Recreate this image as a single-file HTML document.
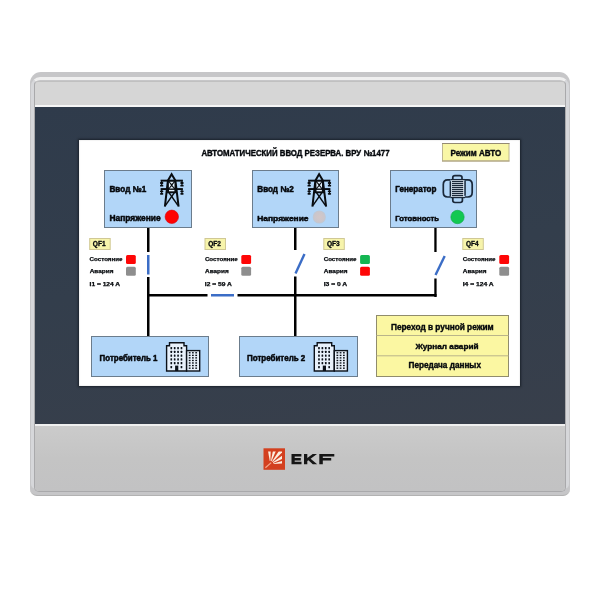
<!DOCTYPE html>
<html><head><meta charset="utf-8">
<style>
*{margin:0;padding:0;box-sizing:border-box}
html,body{width:600px;height:600px;background:#fff;overflow:hidden}
body{position:relative;font-family:"Liberation Sans",sans-serif}
.a{position:absolute}
</style></head><body>
<!-- device case -->
<div class="a" style="left:30px;top:72px;width:540px;height:423.5px;border-radius:11px 11px 7px 7px;background:#c6c6c8;border-bottom:1.4px solid #b2b2b2"></div>
<div class="a" style="left:30.8px;top:76.6px;width:538.4px;height:412px;border-radius:9px 9px 5px 5px;border:3.2px solid #d6d7da;border-top:3px solid #efefef;border-bottom:0"></div>
<div class="a" style="left:34px;top:81px;width:532px;height:411px;border-radius:4px 4px 5px 5px;background:#d6d6d6;border:1px solid #a9a9ab;border-top-color:#c0c0c0"></div>
<div class="a" style="left:35px;top:105px;width:530px;height:2px;background:#f6f6f6"></div>
<div class="a" style="left:35px;top:107px;width:530px;height:317px;background:linear-gradient(172deg,#2f3b4b,#333e4c 50%,#383f4b)"></div>
<div class="a" style="left:35px;top:424px;width:530px;height:2px;background:#efefef"></div>
<div class="a" style="left:35px;top:426px;width:530px;height:65px;border-radius:0 0 4px 4px;background:linear-gradient(#cbcbcb,#c4c4c4 50%,#c2c2c3)"></div>
<!-- screen -->
<div class="a" style="left:79px;top:140px;width:441px;height:246px;background:#fff;box-shadow:0 0 2px 1px rgba(22,28,36,0.85),inset 0 0 1.5px rgba(0,0,0,0.25)"></div>

<svg class="a" style="left:0;top:0" width="600" height="600">
<defs>
 <radialGradient id="gg"><stop offset="0" stop-color="#d3c7c8"/><stop offset="0.75" stop-color="#cbc6cb"/><stop offset="1" stop-color="#bcc8d6"/></radialGradient>
</defs>
<!-- mode button -->
<rect x="442.5" y="143.5" width="66.5" height="17.5" fill="#f9f7a6" stroke="#bdb690" stroke-width="1"/>
<rect x="442" y="143" width="67.5" height="1" fill="#948a72"/>
<rect x="442" y="160.5" width="67.5" height="1" fill="#ab9f82"/>
<!-- top boxes -->
<g fill="#b2d6f8" stroke="#6b7c8c" stroke-width="1">
<rect x="104.5" y="170.5" width="87" height="57"/>
<rect x="252.5" y="170.5" width="86" height="57"/>
<rect x="390.5" y="170.5" width="86" height="57"/>
<rect x="91.5" y="336.5" width="117" height="40"/>
<rect x="239.5" y="336.5" width="118" height="40"/>
</g>
<circle cx="171.8" cy="216.8" r="6.7" fill="#fe0202" stroke="#d8000c" stroke-width="0.6"/>
<circle cx="319.3" cy="217" r="6.6" fill="url(#gg)"/>
<circle cx="457.5" cy="217" r="6.7" fill="#12c852" stroke="#0ea848" stroke-width="0.6"/>

<!-- lines -->
<g fill="#000">
<rect x="147" y="228" width="2.5" height="24"/>
<rect x="147" y="277" width="2.5" height="59"/>
<rect x="294" y="228" width="2.5" height="22"/>
<rect x="294" y="276.5" width="2.5" height="59.5"/>
<rect x="434.3" y="228" width="2.3" height="24"/>
<rect x="434.3" y="278.5" width="2.3" height="18.5"/>
<rect x="147" y="294" width="60.5" height="2.5"/>
<rect x="237.5" y="294" width="199" height="2.5"/>
</g>
<g fill="#3b6dc6">
<rect x="147" y="255" width="2.5" height="19.5"/>
<rect x="211" y="294" width="23" height="2.5"/>
</g>
<g stroke="#3b6dc6" stroke-width="2.4">
<line x1="295.5" y1="273.5" x2="304.5" y2="254"/>
<line x1="435.5" y1="275" x2="444.7" y2="256"/>
</g>

<!-- QF labels -->
<g fill="#f7f4ab" stroke="#d0c895" stroke-width="1">
<rect x="89.7" y="238.5" width="20.5" height="11"/>
<rect x="205" y="238.5" width="20.5" height="11"/>
<rect x="323.8" y="238.5" width="20.5" height="11"/>
<rect x="462.8" y="238.5" width="20.5" height="11"/>
</g>
<!-- squares -->
<g>
<rect x="126" y="255" width="9.8" height="9" rx="1.5" fill="#fe0606"/>
<rect x="126" y="266.8" width="9.8" height="9" rx="1.5" fill="#8e8e8e"/>
<rect x="241.3" y="255" width="9.8" height="9" rx="1.5" fill="#fe0606"/>
<rect x="241.3" y="266.8" width="9.8" height="9" rx="1.5" fill="#8e8e8e"/>
<rect x="360.1" y="255" width="9.8" height="9" rx="1.5" fill="#14b652"/>
<rect x="360.1" y="266.8" width="9.8" height="9" rx="1.5" fill="#fe0606"/>
<rect x="499.3" y="255" width="9.8" height="9" rx="1.5" fill="#fe0606"/>
<rect x="499.3" y="266.8" width="9.8" height="9" rx="1.5" fill="#8e8e8e"/>
</g>

<!-- buttons -->
<rect x="376.5" y="315.5" width="132" height="61" fill="#fbf7a2" stroke="#908c6c" stroke-width="1"/>
<rect x="376.5" y="335" width="132" height="1" fill="#b9b48a"/>
<rect x="376.5" y="355.3" width="132" height="1" fill="#b9b48a"/>

<!-- logo -->
<rect x="263.5" y="448.3" width="21.5" height="21.5" fill="#d3401f"/>
<g transform="translate(0,0)" fill="none" stroke="#080c10">
<polyline points="164.9,206.6 167.9,180.5 171.6,174.3 175.4,180.5 178.6,206.6" stroke-width="2.0" stroke-linejoin="miter" stroke-miterlimit="8"/>
<line x1="169.0" y1="192.6" x2="177.9" y2="205.4" stroke-width="1.5"/>
<line x1="174.4" y1="192.6" x2="165.5" y2="205.4" stroke-width="1.5"/>
</g>
<g transform="translate(0,0)" fill="#080c10">
<rect x="160.6" y="179.7" width="22.3" height="1.9"/>
<rect x="160.6" y="188.1" width="22.3" height="1.9"/>
<polygon points="167.6,180 175.8,180 176.6,193.2 167.0,193.2"/>
<rect x="160.0" y="182.1" width="3.3" height="1.8" rx="0.7"/>
<rect x="160.0" y="184.8" width="3.3" height="1.8" rx="0.7"/>
<rect x="160.0" y="190.4" width="3.3" height="1.8" rx="0.7"/>
<rect x="160.0" y="193.0" width="3.3" height="1.8" rx="0.7"/>
<rect x="161.1" y="181" width="1.1" height="4.5"/>
<rect x="161.1" y="189.5" width="1.1" height="4.5"/>
<rect x="180.3" y="182.1" width="3.3" height="1.8" rx="0.7"/>
<rect x="180.3" y="184.8" width="3.3" height="1.8" rx="0.7"/>
<rect x="180.3" y="190.4" width="3.3" height="1.8" rx="0.7"/>
<rect x="180.3" y="193.0" width="3.3" height="1.8" rx="0.7"/>
<rect x="181.4" y="181" width="1.1" height="4.5"/>
<rect x="181.4" y="189.5" width="1.1" height="4.5"/>
</g>
<g transform="translate(0,0)" fill="#e4f2fe">
<polygon points="168.9,182.3 168.9,188.0 171.0,185.15"/>
<polygon points="174.5,182.3 174.5,188.0 172.4,185.15"/>
<polygon points="169.6,181.8 173.8,181.8 171.7,184.1"/>
<polygon points="169.6,188.5 173.8,188.5 171.7,186.2"/>
<rect x="169.0" y="189.9" width="5.4" height="1.4"/>
</g>
<g transform="translate(147.5,0)" fill="none" stroke="#080c10">
<polyline points="164.9,206.6 167.9,180.5 171.6,174.3 175.4,180.5 178.6,206.6" stroke-width="2.0" stroke-linejoin="miter" stroke-miterlimit="8"/>
<line x1="169.0" y1="192.6" x2="177.9" y2="205.4" stroke-width="1.5"/>
<line x1="174.4" y1="192.6" x2="165.5" y2="205.4" stroke-width="1.5"/>
</g>
<g transform="translate(147.5,0)" fill="#080c10">
<rect x="160.6" y="179.7" width="22.3" height="1.9"/>
<rect x="160.6" y="188.1" width="22.3" height="1.9"/>
<polygon points="167.6,180 175.8,180 176.6,193.2 167.0,193.2"/>
<rect x="160.0" y="182.1" width="3.3" height="1.8" rx="0.7"/>
<rect x="160.0" y="184.8" width="3.3" height="1.8" rx="0.7"/>
<rect x="160.0" y="190.4" width="3.3" height="1.8" rx="0.7"/>
<rect x="160.0" y="193.0" width="3.3" height="1.8" rx="0.7"/>
<rect x="161.1" y="181" width="1.1" height="4.5"/>
<rect x="161.1" y="189.5" width="1.1" height="4.5"/>
<rect x="180.3" y="182.1" width="3.3" height="1.8" rx="0.7"/>
<rect x="180.3" y="184.8" width="3.3" height="1.8" rx="0.7"/>
<rect x="180.3" y="190.4" width="3.3" height="1.8" rx="0.7"/>
<rect x="180.3" y="193.0" width="3.3" height="1.8" rx="0.7"/>
<rect x="181.4" y="181" width="1.1" height="4.5"/>
<rect x="181.4" y="189.5" width="1.1" height="4.5"/>
</g>
<g transform="translate(147.5,0)" fill="#e4f2fe">
<polygon points="168.9,182.3 168.9,188.0 171.0,185.15"/>
<polygon points="174.5,182.3 174.5,188.0 172.4,185.15"/>
<polygon points="169.6,181.8 173.8,181.8 171.7,184.1"/>
<polygon points="169.6,188.5 173.8,188.5 171.7,186.2"/>
<rect x="169.0" y="189.9" width="5.4" height="1.4"/>
</g>
<g fill="none" stroke="#1a2839" stroke-width="1.7">
<path d="M452.8,179.4 V177.6 Q452.8,175.6 455,175.6 H459.8 Q462,175.6 462,177.6 V179.4"/>
<path d="M450.4,179.9 H447.6 Q443.3,179.9 443.3,184.6 V192.3 Q443.3,197 447.6,197 H450.4"/>
<path d="M464.9,179.9 H467.9 Q472.2,179.9 472.2,184.6 V192.3 Q472.2,197 467.9,197 H464.9"/>
<path d="M452.8,197.6 V200.6 Q452.8,202.5 455,202.5 H460.2 Q462.4,202.5 462.4,200.6 V197.6"/>
</g>
<rect x="451.2" y="179.5" width="13" height="18" fill="#e2edf7"/>
<g fill="#1a2839">
<rect x="449.6" y="181.2" width="1.5" height="15.4"/>
<rect x="464.3" y="180.4" width="1.5" height="15.4"/>
<rect x="450.4" y="178.95" width="14.6" height="1.25"/>
<rect x="452" y="180.95" width="11.2" height="1.25"/>
<rect x="452" y="182.95" width="11.2" height="1.25"/>
<rect x="452" y="184.95" width="11.2" height="1.25"/>
<rect x="452" y="186.95" width="11.2" height="1.25"/>
<rect x="452" y="188.95" width="11.2" height="1.25"/>
<rect x="452" y="190.95" width="11.2" height="1.25"/>
<rect x="452" y="192.95" width="11.2" height="1.25"/>
<rect x="452" y="194.95" width="11.2" height="1.25"/>
<rect x="450.4" y="196.95" width="14.6" height="1.25"/>
</g>
<g transform="translate(0,0)">
<path d="M166.6,371 V345.7 H169.5 V342.7 H184 V345.7 H186.6 V371 Z" fill="#e8f1fb" stroke="#0b1119" stroke-width="1.4"/>
<rect x="186.6" y="350.6" width="13.1" height="20.4" fill="#e8f1fb" stroke="#0b1119" stroke-width="1.4"/>
<g fill="#0b1119">
<rect x="170.45" y="347.0" width="1.65" height="2.2" rx="0.5"/>
<rect x="173.85" y="347.0" width="1.65" height="2.2" rx="0.5"/>
<rect x="177.25" y="347.0" width="1.65" height="2.2" rx="0.5"/>
<rect x="180.65" y="347.0" width="1.65" height="2.2" rx="0.5"/>
<rect x="170.45" y="350.79999999999995" width="1.65" height="2.2" rx="0.5"/>
<rect x="173.85" y="350.79999999999995" width="1.65" height="2.2" rx="0.5"/>
<rect x="177.25" y="350.79999999999995" width="1.65" height="2.2" rx="0.5"/>
<rect x="180.65" y="350.79999999999995" width="1.65" height="2.2" rx="0.5"/>
<rect x="170.45" y="354.59999999999997" width="1.65" height="2.2" rx="0.5"/>
<rect x="173.85" y="354.59999999999997" width="1.65" height="2.2" rx="0.5"/>
<rect x="177.25" y="354.59999999999997" width="1.65" height="2.2" rx="0.5"/>
<rect x="180.65" y="354.59999999999997" width="1.65" height="2.2" rx="0.5"/>
<rect x="170.45" y="358.29999999999995" width="1.65" height="2.2" rx="0.5"/>
<rect x="173.85" y="358.29999999999995" width="1.65" height="2.2" rx="0.5"/>
<rect x="177.25" y="358.29999999999995" width="1.65" height="2.2" rx="0.5"/>
<rect x="180.65" y="358.29999999999995" width="1.65" height="2.2" rx="0.5"/>
<rect x="170.45" y="362.09999999999997" width="1.65" height="2.2" rx="0.5"/>
<rect x="173.85" y="362.09999999999997" width="1.65" height="2.2" rx="0.5"/>
<rect x="177.25" y="362.09999999999997" width="1.65" height="2.2" rx="0.5"/>
<rect x="180.65" y="362.09999999999997" width="1.65" height="2.2" rx="0.5"/>
<rect x="170.45" y="366.09999999999997" width="1.65" height="2.2" rx="0.5"/>
<rect x="180.65" y="366.09999999999997" width="1.65" height="2.2" rx="0.5"/>
<rect x="175.1" y="365.6" width="3.2" height="5.4"/>
<rect x="188.8" y="352.09999999999997" width="1.75" height="1.35"/>
<rect x="192.0" y="352.09999999999997" width="1.75" height="1.35"/>
<rect x="195.3" y="352.09999999999997" width="1.75" height="1.35"/>
<rect x="188.8" y="354.7" width="1.75" height="1.35"/>
<rect x="192.0" y="354.7" width="1.75" height="1.35"/>
<rect x="195.3" y="354.7" width="1.75" height="1.35"/>
<rect x="188.8" y="357.2" width="1.75" height="1.35"/>
<rect x="192.0" y="357.2" width="1.75" height="1.35"/>
<rect x="195.3" y="357.2" width="1.75" height="1.35"/>
<rect x="188.8" y="359.79999999999995" width="1.75" height="1.35"/>
<rect x="192.0" y="359.79999999999995" width="1.75" height="1.35"/>
<rect x="195.3" y="359.79999999999995" width="1.75" height="1.35"/>
<rect x="188.8" y="362.29999999999995" width="1.75" height="1.35"/>
<rect x="192.0" y="362.29999999999995" width="1.75" height="1.35"/>
<rect x="195.3" y="362.29999999999995" width="1.75" height="1.35"/>
<rect x="188.8" y="364.9" width="1.75" height="1.35"/>
<rect x="192.0" y="364.9" width="1.75" height="1.35"/>
<rect x="195.3" y="364.9" width="1.75" height="1.35"/>
<rect x="188.8" y="367.5" width="1.75" height="1.35"/>
<rect x="192.0" y="367.5" width="1.75" height="1.35"/>
<rect x="195.3" y="367.5" width="1.75" height="1.35"/>
</g></g>
<g transform="translate(147.7,0)">
<path d="M166.6,371 V345.7 H169.5 V342.7 H184 V345.7 H186.6 V371 Z" fill="#e8f1fb" stroke="#0b1119" stroke-width="1.4"/>
<rect x="186.6" y="350.6" width="13.1" height="20.4" fill="#e8f1fb" stroke="#0b1119" stroke-width="1.4"/>
<g fill="#0b1119">
<rect x="170.45" y="347.0" width="1.65" height="2.2" rx="0.5"/>
<rect x="173.85" y="347.0" width="1.65" height="2.2" rx="0.5"/>
<rect x="177.25" y="347.0" width="1.65" height="2.2" rx="0.5"/>
<rect x="180.65" y="347.0" width="1.65" height="2.2" rx="0.5"/>
<rect x="170.45" y="350.79999999999995" width="1.65" height="2.2" rx="0.5"/>
<rect x="173.85" y="350.79999999999995" width="1.65" height="2.2" rx="0.5"/>
<rect x="177.25" y="350.79999999999995" width="1.65" height="2.2" rx="0.5"/>
<rect x="180.65" y="350.79999999999995" width="1.65" height="2.2" rx="0.5"/>
<rect x="170.45" y="354.59999999999997" width="1.65" height="2.2" rx="0.5"/>
<rect x="173.85" y="354.59999999999997" width="1.65" height="2.2" rx="0.5"/>
<rect x="177.25" y="354.59999999999997" width="1.65" height="2.2" rx="0.5"/>
<rect x="180.65" y="354.59999999999997" width="1.65" height="2.2" rx="0.5"/>
<rect x="170.45" y="358.29999999999995" width="1.65" height="2.2" rx="0.5"/>
<rect x="173.85" y="358.29999999999995" width="1.65" height="2.2" rx="0.5"/>
<rect x="177.25" y="358.29999999999995" width="1.65" height="2.2" rx="0.5"/>
<rect x="180.65" y="358.29999999999995" width="1.65" height="2.2" rx="0.5"/>
<rect x="170.45" y="362.09999999999997" width="1.65" height="2.2" rx="0.5"/>
<rect x="173.85" y="362.09999999999997" width="1.65" height="2.2" rx="0.5"/>
<rect x="177.25" y="362.09999999999997" width="1.65" height="2.2" rx="0.5"/>
<rect x="180.65" y="362.09999999999997" width="1.65" height="2.2" rx="0.5"/>
<rect x="170.45" y="366.09999999999997" width="1.65" height="2.2" rx="0.5"/>
<rect x="180.65" y="366.09999999999997" width="1.65" height="2.2" rx="0.5"/>
<rect x="175.1" y="365.6" width="3.2" height="5.4"/>
<rect x="188.8" y="352.09999999999997" width="1.75" height="1.35"/>
<rect x="192.0" y="352.09999999999997" width="1.75" height="1.35"/>
<rect x="195.3" y="352.09999999999997" width="1.75" height="1.35"/>
<rect x="188.8" y="354.7" width="1.75" height="1.35"/>
<rect x="192.0" y="354.7" width="1.75" height="1.35"/>
<rect x="195.3" y="354.7" width="1.75" height="1.35"/>
<rect x="188.8" y="357.2" width="1.75" height="1.35"/>
<rect x="192.0" y="357.2" width="1.75" height="1.35"/>
<rect x="195.3" y="357.2" width="1.75" height="1.35"/>
<rect x="188.8" y="359.79999999999995" width="1.75" height="1.35"/>
<rect x="192.0" y="359.79999999999995" width="1.75" height="1.35"/>
<rect x="195.3" y="359.79999999999995" width="1.75" height="1.35"/>
<rect x="188.8" y="362.29999999999995" width="1.75" height="1.35"/>
<rect x="192.0" y="362.29999999999995" width="1.75" height="1.35"/>
<rect x="195.3" y="362.29999999999995" width="1.75" height="1.35"/>
<rect x="188.8" y="364.9" width="1.75" height="1.35"/>
<rect x="192.0" y="364.9" width="1.75" height="1.35"/>
<rect x="195.3" y="364.9" width="1.75" height="1.35"/>
<rect x="188.8" y="367.5" width="1.75" height="1.35"/>
<rect x="192.0" y="367.5" width="1.75" height="1.35"/>
<rect x="195.3" y="367.5" width="1.75" height="1.35"/>
</g></g>
<defs><clipPath id="lc"><rect x="264" y="451.6" width="18" height="16"/></clipPath></defs>
<g clip-path="url(#lc)" fill="#fdeee0">
<polygon points="270.40,461.00 270.93,444.21 266.90,444.49 269.76,461.05"/>
<polygon points="271.54,461.25 278.05,445.76 274.18,444.58 270.92,461.06"/>
<polygon points="272.55,461.93 284.39,450.01 281.25,447.46 272.05,461.52"/>
<polygon points="273.22,462.89 288.54,456.00 286.52,452.50 272.90,462.33"/>
<polygon points="273.50,464.02 290.27,463.08 289.64,459.09 273.39,463.38"/>
</g>
<line x1="265.4" y1="467.8" x2="271.2" y2="462.6" stroke="#f4a88c" stroke-width="1.2"/>
<g fill="#161616">
<path d="M291.5,453.9 H301.4 V456.4 H294.7 V458.0 H300.8 V460.4 H294.7 V461.7 H301.5 V464.2 H291.5 Z"/>
<path d="M304,453.9 H307.3 V458.0 L312.7,453.9 H317.0 L310.6,458.7 L317.2,464.2 H312.8 L308.4,460.3 L307.3,461.1 V464.2 H304 Z"/>
<path d="M319.3,453.9 H334.3 V456.4 H322.8 V458.0 H331.2 V460.4 H322.8 V464.2 H319.3 Z"/>
</g>
</svg>
<svg class="a" style="left:0;top:0;will-change:transform" width="600" height="600" font-family="Liberation Sans" font-weight="bold" stroke-width="0.3" stroke-linejoin="round">
<text x="201.38" y="156.20" font-size="8.48" textLength="188.14" lengthAdjust="spacingAndGlyphs" fill="#05080c" stroke="#05080c" stroke-width="0.4">АВТОМАТИЧЕСКИЙ ВВОД РЕЗЕРВА. ВРУ №1477</text>
<text x="450.50" y="156.00" font-size="8.84" textLength="50.73" lengthAdjust="spacingAndGlyphs" fill="#05080c" stroke="#05080c" stroke-width="0.4">Режим АВТО</text>
<text x="109.49" y="191.80" font-size="8.48" textLength="36.71" lengthAdjust="spacingAndGlyphs" fill="#05080c" stroke="#05080c" stroke-width="0.5">Ввод №1</text>
<text x="109.47" y="220.80" font-size="8.48" textLength="51.24" lengthAdjust="spacingAndGlyphs" fill="#05080c" stroke="#05080c" stroke-width="0.5">Напряжение</text>
<text x="257.29" y="191.70" font-size="8.33" textLength="36.51" lengthAdjust="spacingAndGlyphs" fill="#05080c" stroke="#05080c" stroke-width="0.5">Ввод №2</text>
<text x="257.27" y="220.60" font-size="8.04" textLength="51.24" lengthAdjust="spacingAndGlyphs" fill="#05080c" stroke="#05080c" stroke-width="0.5">Напряжение</text>
<text x="395.30" y="191.50" font-size="8.33" textLength="41.07" lengthAdjust="spacingAndGlyphs" fill="#05080c" stroke="#05080c" stroke-width="0.5">Генератор</text>
<text x="395.32" y="220.50" font-size="7.90" textLength="43.77" lengthAdjust="spacingAndGlyphs" fill="#05080c" stroke="#05080c" stroke-width="0.5">Готовность</text>
<text x="99.61" y="360.60" font-size="8.48" textLength="57.89" lengthAdjust="spacingAndGlyphs" fill="#05080c" stroke="#05080c" stroke-width="0.5">Потребитель 1</text>
<text x="247.00" y="360.60" font-size="8.48" textLength="58.30" lengthAdjust="spacingAndGlyphs" fill="#05080c" stroke="#05080c" stroke-width="0.5">Потребитель 2</text>
<text x="390.98" y="329.60" font-size="8.48" textLength="102.78" lengthAdjust="spacingAndGlyphs" fill="#05080c" stroke="#05080c" stroke-width="0.4">Переход в ручной режим</text>
<text x="415.43" y="348.90" font-size="8.04" textLength="63.13" lengthAdjust="spacingAndGlyphs" fill="#05080c" stroke="#05080c" stroke-width="0.4">Журнал аварий</text>
<text x="408.49" y="368.30" font-size="8.19" textLength="72.46" lengthAdjust="spacingAndGlyphs" fill="#05080c" stroke="#05080c" stroke-width="0.4">Передача данных</text>
<text x="92.89" y="245.70" font-size="6.52" textLength="12.77" lengthAdjust="spacingAndGlyphs" fill="#05080c" stroke="#05080c" stroke-width="0.3">QF1</text>
<text x="89.61" y="261.20" font-size="6.23" textLength="32.85" lengthAdjust="spacingAndGlyphs" fill="#05080c" stroke="#05080c" stroke-width="0.25">Состояние</text>
<text x="89.70" y="273.10" font-size="5.80" textLength="23.74" lengthAdjust="spacingAndGlyphs" fill="#05080c" stroke="#05080c" stroke-width="0.25">Авария</text>
<text x="89.59" y="285.80" font-size="5.65" textLength="30.54" lengthAdjust="spacingAndGlyphs" fill="#05080c" stroke="#05080c" stroke-width="0.25">I1 = 124 A</text>
<text x="208.19" y="245.70" font-size="6.52" textLength="12.77" lengthAdjust="spacingAndGlyphs" fill="#05080c" stroke="#05080c" stroke-width="0.3">QF2</text>
<text x="204.91" y="261.20" font-size="6.23" textLength="32.85" lengthAdjust="spacingAndGlyphs" fill="#05080c" stroke="#05080c" stroke-width="0.25">Состояние</text>
<text x="205.00" y="273.10" font-size="5.80" textLength="23.74" lengthAdjust="spacingAndGlyphs" fill="#05080c" stroke="#05080c" stroke-width="0.25">Авария</text>
<text x="204.89" y="285.80" font-size="5.65" textLength="27.04" lengthAdjust="spacingAndGlyphs" fill="#05080c" stroke="#05080c" stroke-width="0.25">I2 = 59 A</text>
<text x="326.99" y="245.70" font-size="6.52" textLength="12.77" lengthAdjust="spacingAndGlyphs" fill="#05080c" stroke="#05080c" stroke-width="0.3">QF3</text>
<text x="323.71" y="261.20" font-size="6.23" textLength="32.85" lengthAdjust="spacingAndGlyphs" fill="#05080c" stroke="#05080c" stroke-width="0.25">Состояние</text>
<text x="323.80" y="273.10" font-size="5.80" textLength="23.74" lengthAdjust="spacingAndGlyphs" fill="#05080c" stroke="#05080c" stroke-width="0.25">Авария</text>
<text x="323.68" y="285.80" font-size="5.65" textLength="23.54" lengthAdjust="spacingAndGlyphs" fill="#05080c" stroke="#05080c" stroke-width="0.25">I3 = 0 A</text>
<text x="466.00" y="245.70" font-size="6.52" textLength="12.56" lengthAdjust="spacingAndGlyphs" fill="#05080c" stroke="#05080c" stroke-width="0.3">QF4</text>
<text x="462.71" y="261.20" font-size="6.23" textLength="32.85" lengthAdjust="spacingAndGlyphs" fill="#05080c" stroke="#05080c" stroke-width="0.25">Состояние</text>
<text x="462.80" y="273.10" font-size="5.80" textLength="23.74" lengthAdjust="spacingAndGlyphs" fill="#05080c" stroke="#05080c" stroke-width="0.25">Авария</text>
<text x="462.68" y="285.80" font-size="5.65" textLength="31.05" lengthAdjust="spacingAndGlyphs" fill="#05080c" stroke="#05080c" stroke-width="0.25">I4 = 124 A</text>
</svg>
</body></html>
